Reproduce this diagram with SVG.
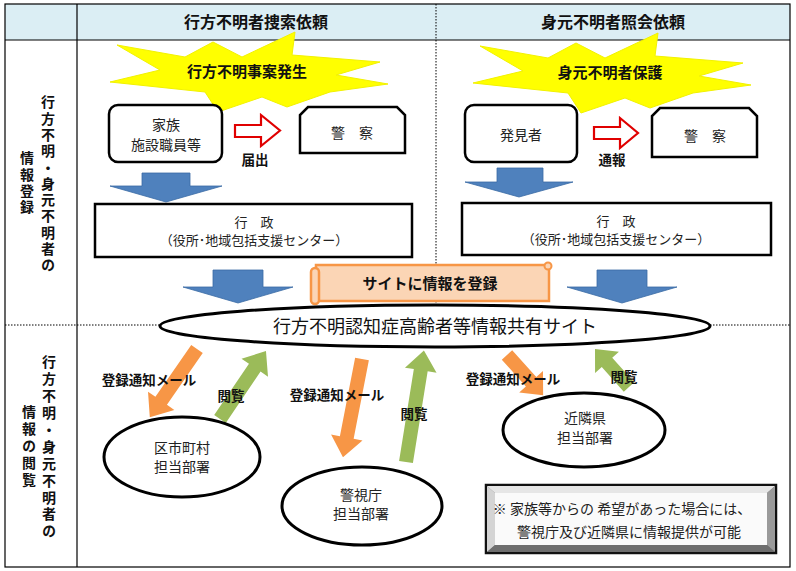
<svg xmlns="http://www.w3.org/2000/svg" width="796" height="571" viewBox="0 0 796 571">
<style>
text{font-family:"Noto Sans CJK JP","Noto Sans",sans-serif;fill:#111;}
.hd{font-size:16px;font-weight:bold;text-anchor:middle;}
.side{font-size:14px;font-weight:bold;writing-mode:vertical-rl;text-anchor:start;}
.star{font-size:15px;font-weight:bold;text-anchor:middle;}
.nt{font-size:14px;text-anchor:middle;fill:#222;}
.gt{font-size:13px;text-anchor:middle;fill:#222;}
.lbl{font-size:13.5px;font-weight:bold;text-anchor:middle;}
.box{fill:#fff;stroke:#000;stroke-width:2.5;}
.ell{fill:#fff;stroke:#000;stroke-width:3;}
.grid{stroke:#000;stroke-width:1.2;fill:none;}
.dot{stroke:#000;stroke-width:1;stroke-dasharray:1.5 1.5;fill:none;}
.blue{fill:#4F81BD;stroke:#3A6BA5;stroke-width:0.8;}
.red{fill:#fff;stroke:#E00000;stroke-width:2.2;}
.org{fill:#F79646;}
.grn{fill:#9BBB59;}
.burst{fill:#FFFF00;stroke:#F2F200;stroke-width:1;}
</style>
<rect x="0" y="0" width="796" height="571" fill="#fff"/>
<g id="table">
<rect x="5" y="4" width="785" height="36" fill="#DBEEF4"/>
<line class="dot" x1="436" y1="4" x2="436" y2="312"/>
<line class="dot" x1="5" y1="325" x2="790" y2="325"/>
<rect class="grid" x="5" y="4" width="785" height="563"/>
<line class="grid" x1="5" y1="40" x2="790" y2="40"/>
<line class="grid" x1="77" y1="4" x2="77" y2="567"/>
<text class="hd" x="256" y="28">行方不明者捜索依頼</text>
<text class="hd" x="613" y="28">身元不明者照会依頼</text>
<text class="side" x="48" y="95" letter-spacing="2.3">行方不明・身元不明者の</text>
<text class="side" x="27" y="151" letter-spacing="2.3">情報登録</text>
<text class="side" x="49" y="355" letter-spacing="2.9">行方不明・身元不明者の</text>
<text class="side" x="29" y="405" letter-spacing="2.9">情報の閲覧</text>
</g>
<g id="burst-left">
<polygon class="burst" points="117,45 185,57 213,42 242,57 295,32 292,55 380,62 336,75 388,84 330,92 287,107 262,97 218,112 205,92 110,82 160,70"/>
<text class="star" x="247" y="77">行方不明事案発生</text>
</g>
<g id="burst-right">
<polygon class="burst" transform="translate(363,1)" points="117,45 185,57 213,42 242,57 295,32 292,55 380,62 336,75 388,84 330,92 287,107 262,97 218,112 205,92 110,82 160,70"/>
<text class="star" x="610" y="78">身元不明者保護</text>
</g>
<g id="connectors">
<polygon class="blue" points="142,173 190,173 190,186 222,186 166,202 110,186 142,186"/>
<polygon class="blue" points="497,168 543,168 543,182 573,182 519,197 465,182 497,182"/>
<polygon class="blue" points="213,270 263,270 263,287 293,287 238,303 183,287 213,287"/>
<polygon class="blue" points="597,270 647,270 647,287 677,287 622,303 567,287 597,287"/>
<polygon class="red" points="235,125 261,125 261,115 280,130.5 261,146 261,137 235,137"/>
<polygon class="red" points="594,127 620,127 620,118 638,133 620,148 620,139 594,139"/>
<polygon class="org" transform="translate(197,349) rotate(124.65)" points="0,-7 63,-7 63,-16 83,0 63,16 63,7 0,7"/>
<polygon class="grn" transform="translate(220,419) rotate(-55.9)" points="0,-7 62,-7 62,-16 82,0 62,16 62,7 0,7"/>
<polygon class="org" transform="translate(362,359) rotate(100.97)" points="0,-7 80,-7 80,-16 100,0 80,16 80,7 0,7"/>
<polygon class="grn" transform="translate(406,462) rotate(-80.87)" points="0,-7 93,-7 93,-16 113,0 93,16 93,7 0,7"/>
<polygon class="org" transform="translate(507,355) rotate(48)" points="0,-7 36,-7 36,-16 54,0 36,16 36,7 0,7"/>
<polygon class="grn" transform="translate(629,387) rotate(-131.8)" points="0,-7 33,-7 33,-16 51,0 33,16 33,7 0,7"/>
<text class="lbl" x="255" y="165">届出</text>
<text class="lbl" x="612" y="165">通報</text>
<text class="lbl" x="149" y="385">登録通知メール</text>
<text class="lbl" x="231" y="401">閲覧</text>
<text class="lbl" x="337" y="400">登録通知メール</text>
<text class="lbl" x="414" y="419">閲覧</text>
<text class="lbl" x="513" y="384">登録通知メール</text>
<text class="lbl" x="624" y="382">閲覧</text>
</g>
<g id="family">
<rect class="box" x="109" y="105" width="113" height="57" rx="9"/>
<text class="nt" x="166" y="130">家族</text>
<text class="nt" x="166" y="150">施設職員等</text>
</g>
<g id="police-left">
<path class="box" d="M308,107 L397,107 L405,115 L405,153 L300,153 L300,115 Z"/>
<text class="nt" x="352" y="138">警　察</text>
</g>
<g id="finder">
<rect class="box" x="465" y="105" width="112" height="57" rx="9"/>
<text class="nt" x="521" y="140">発見者</text>
</g>
<g id="police-right">
<path class="box" d="M660,108 L749,108 L757,116 L757,157 L652,157 L652,116 Z"/>
<text class="nt" x="705" y="141">警　察</text>
</g>
<g id="gyosei-left">
<rect class="box" x="95" y="204" width="317" height="53"/>
<text class="gt" x="254" y="227">行　政</text>
<text class="gt" x="254" y="245">（役所･地域包括支援センター）</text>
</g>
<g id="gyosei-right">
<rect class="box" x="462" y="203" width="309" height="52"/>
<text class="gt" x="616" y="226">行　政</text>
<text class="gt" x="616" y="244">（役所･地域包括支援センター）</text>
</g>
<g id="register-banner">
<rect x="316" y="265" width="233" height="36" fill="#FBD5B5" stroke="#F79646" stroke-width="2.5"/>
<rect x="311" y="268" width="8" height="36" rx="4" fill="#FBD5B5" stroke="#F79646" stroke-width="2.5"/>
<circle cx="548" cy="266" r="3.5" fill="#FBD5B5" stroke="#F79646" stroke-width="2"/>
<text class="star" x="430" y="289">サイトに情報を登録</text>
</g>
<g id="site">
<ellipse class="ell" cx="435" cy="326" rx="275" ry="21"/>
<text x="435" y="333" font-size="18" text-anchor="middle">行方不明認知症高齢者等情報共有サイト</text>
</g>
<g id="ward">
<ellipse class="ell" cx="182" cy="457" rx="78" ry="40"/>
<text class="nt" x="182" y="453">区市町村</text>
<text class="nt" x="182" y="472">担当部署</text>
</g>
<g id="mpd">
<ellipse class="ell" cx="362" cy="506" rx="80" ry="39"/>
<text class="nt" x="361" y="500">警視庁</text>
<text class="nt" x="361" y="519">担当部署</text>
</g>
<g id="neighbor">
<ellipse class="ell" cx="584" cy="430" rx="81" ry="37"/>
<text class="nt" x="585" y="423">近隣県</text>
<text class="nt" x="585" y="443">担当部署</text>
</g>
<g id="note">
<rect x="486" y="485" width="290" height="68" fill="#808080" stroke="#111" stroke-width="2.5"/>
<polygon points="487,486 775,486 767,493 495,493" fill="#E6E6E6"/>
<polygon points="487,486 495,493 495,545 487,552" fill="#D4D4D4"/>
<polygon points="775,486 775,552 767,545 767,493" fill="#9A9A9A"/>
<polygon points="487,552 775,552 767,545 495,545" fill="#6E6E6E"/>
<rect x="495" y="493" width="272" height="52" fill="#FAFAFA"/>
<text class="nt" x="622" y="514">※ 家族等からの 希望があった場合には、</text>
<text class="nt" x="629" y="537">警視庁及び近隣県に情報提供が可能</text>
</g>
</svg>
